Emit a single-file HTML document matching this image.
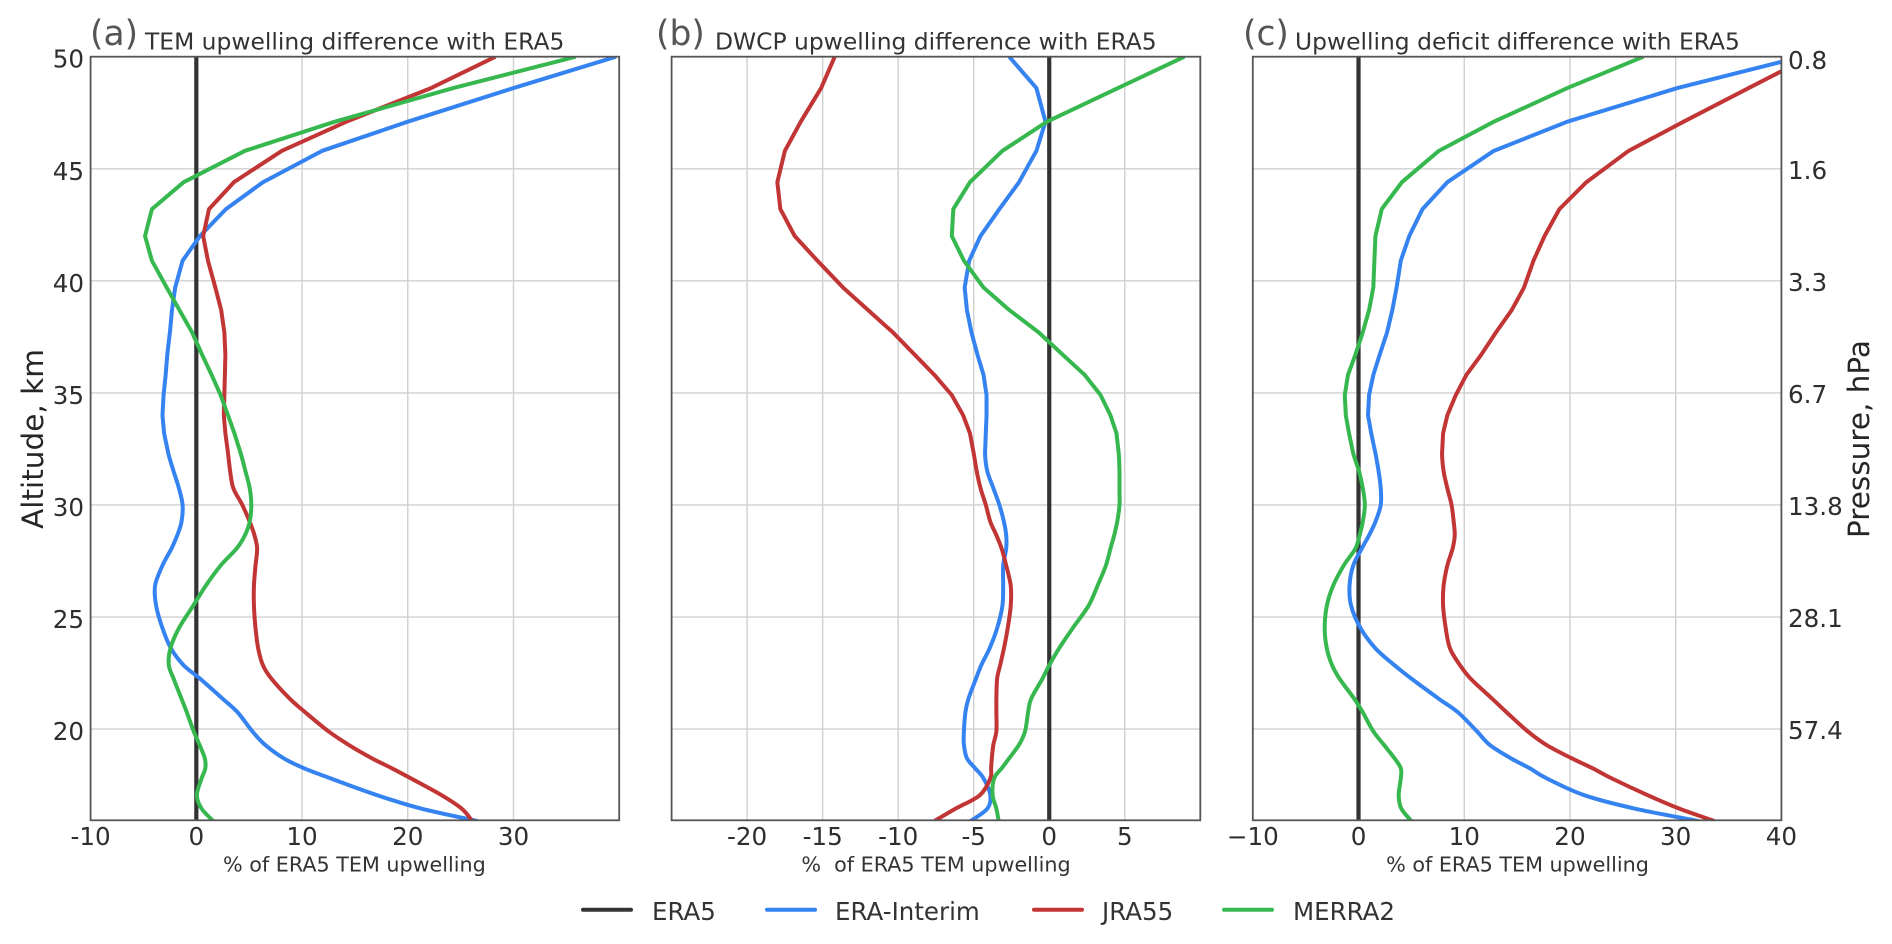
<!DOCTYPE html>
<html lang="en">
<head>
<meta charset="utf-8">
<title>Upwelling differences with ERA5</title>
<style>
html,body{margin:0;padding:0;background:#fff;width:1892px;height:944px;overflow:hidden}
svg{display:block;font-family:"DejaVu Sans","Liberation Sans",sans-serif;fill:#333}
.tick{font-size:24.6px;fill:#2e2e2e}
.xl{font-size:20.7px;fill:#333;text-anchor:middle}
.ttl{font-size:23.4px;fill:#333}
.pl{font-size:34.5px;fill:#555}
.ax{font-size:29.5px;fill:#262626;text-anchor:middle}
.lg{font-size:24.5px;fill:#333}
</style>
</head>
<body>
<svg id="fig" xmlns="http://www.w3.org/2000/svg" width="1892" height="944" viewBox="0 0 1892 944">
  <rect width="1892" height="944" fill="#fff"/>
  <g id="panels"></g>

  <text class="pl" x="90" y="45">(a)</text>
  <text class="ttl" x="145" y="49.5">TEM upwelling difference with ERA5</text>
  <text class="pl" x="656" y="45">(b)</text>
  <text class="ttl" x="715" y="49.5">DWCP upwelling difference with ERA5</text>
  <text class="pl" x="1243" y="45">(c)</text>
  <text class="ttl" x="1295" y="49.5">Upwelling deficit difference with ERA5</text>

  <text class="xl" x="354.4" y="871.5">% of ERA5 TEM upwelling</text>
  <text class="xl" x="936" y="871.5" xml:space="preserve">%  of ERA5 TEM upwelling</text>
  <text class="xl" x="1517.5" y="871.5">% of ERA5 TEM upwelling</text>

  <text class="ax" transform="translate(43,439) rotate(-90)">Altitude, km</text>
  <text class="ax" transform="translate(1869,439) rotate(-90)">Pressure, hPa</text>

  <g>
    <line x1="583" x2="631" y1="909.7" y2="909.7" stroke="#333333" stroke-width="4" stroke-linecap="round"/>
    <text class="lg" x="652" y="920">ERA5</text>
    <line x1="767" x2="815" y1="909.7" y2="909.7" stroke="#3583f0" stroke-width="4" stroke-linecap="round"/>
    <text class="lg" x="835" y="920">ERA-Interim</text>
    <line x1="1034" x2="1082" y1="909.7" y2="909.7" stroke="#c23535" stroke-width="4" stroke-linecap="round"/>
    <text class="lg" x="1102" y="920">JRA55</text>
    <line x1="1224" x2="1272" y1="909.7" y2="909.7" stroke="#36b84f" stroke-width="4" stroke-linecap="round"/>
    <text class="lg" x="1293" y="920">MERRA2</text>
  </g>
</svg>

<script>
// Shared vertical coordinate (km)
const altitudeLevels = [50,48.6,47.1,45.8,44.4,43.2,42,40.9,39.7,38.7,37.7,36.7,35.8,34.9,34,33.2,32.3,31.5,30.75,30,29.25,28.65,28.05,27.3,26.4,25.5,24.5,23.6,22.85,22.25,21.35,20.75,19.9,19.3,18.7,18.25,17.8,17.05,16.45,15.9];

// Panel (a): TEM upwelling difference, %
const temEraInterim = [39.7,30,20,11.9,6.3,2.8,.35,-1.3,-2,-2.3,-2.5,-2.75,-2.9,-3.1,-3.2,-3.05,-2.65,-2.15,-1.65,-1.3,-1.4,-1.8,-2.35,-3.2,-3.9,-3.8,-3.2,-2.4,-1.2,.35,2.5,3.9,5.3,6.5,8.25,10.2,12.7,17.1,21.3,26.6];
const temJra55 = [28.3,22.2,14.2,8.1,3.55,1.2,.65,1.1,1.8,2.35,2.65,2.75,2.7,2.65,2.6,2.75,3,3.2,3.5,4.35,5.05,5.5,5.75,5.6,5.45,5.45,5.6,5.85,6.3,7.1,8.85,10.3,12.5,14.4,16.6,18.5,20.3,23.2,25.1,26.1];
const temMerra2 = [35.9,24.3,13.1,4.6,-1.2,-4.2,-4.85,-4.2,-2.8,-1.6,-.4,.55,1.45,2.3,3,3.6,4.2,4.65,5.05,5.2,5.05,4.6,3.8,2.3,.9,-.3,-1.65,-2.45,-2.6,-2.15,-1.4,-.9,-.25,.3,.8,.85,.5,.05,.5,1.6];

// Panel (b): DWCP upwelling difference, %
const dwcpEraInterim = [-2.65,-.85,-.25,-.85,-2,-3.3,-4.55,-5.3,-5.6,-5.45,-5.15,-4.75,-4.35,-4.15,-4.15,-4.2,-4.25,-4.1,-3.7,-3.3,-3,-2.85,-2.85,-3.05,-3.05,-3.1,-3.45,-3.95,-4.5,-4.85,-5.35,-5.55,-5.65,-5.65,-5.45,-4.9,-4.35,-3.9,-4.1,-5.2];
const dwcpJra55 = [-14.2,-15.1,-16.45,-17.5,-18,-17.8,-16.85,-15.35,-13.65,-12,-10.35,-8.9,-7.6,-6.45,-5.7,-5.25,-5,-4.8,-4.55,-4.2,-3.9,-3.5,-3.15,-2.85,-2.55,-2.55,-2.75,-3,-3.25,-3.45,-3.5,-3.5,-3.5,-3.7,-3.8,-3.85,-3.9,-4.6,-6.2,-7.6];
const dwcpMerra2 = [8.95,4.55,-.15,-3.1,-5.25,-6.35,-6.45,-5.65,-4.35,-2.65,-.7,.9,2.35,3.4,4.05,4.45,4.6,4.65,4.65,4.65,4.5,4.3,4.05,3.75,3.2,2.6,1.55,.65,0,-.45,-1.2,-1.4,-1.6,-2,-2.65,-3.15,-3.65,-3.75,-3.5,-3.35];

// Panel (c): Upwelling deficit difference, %
const deficitEraInterim = [41.95,30.15,19.75,12.8,8.4,6.05,4.8,4,3.6,3.2,2.7,2,1.4,1,.9,1.2,1.6,1.9,2.1,2.1,1.6,1,.3,-.5,-.85,-.7,.2,1.6,3.4,5,7.6,9.4,11.2,12.4,14.4,16.2,17.8,21.35,26.15,32.15];
const deficitJra55 = [42.7,36.9,30.75,25.55,21.55,19,17.6,16.55,15.65,14.5,13,11.6,10.2,9.2,8.4,8,7.9,8.05,8.4,8.8,9,9.1,8.9,8.4,8.05,8,8.25,8.65,9.6,10.6,12.65,14,16,17.75,20.15,22.15,23.95,27.35,30.35,33.65];
const deficitMerra2 = [26.95,19.75,12.8,7.6,4.1,2.2,1.6,1.5,1.4,1,.4,-.3,-1,-1.3,-1.2,-.9,-.5,.05,.4,.6,.4,.1,-.3,-1.4,-2.4,-3,-3.2,-3,-2.5,-1.8,-.4,.4,1.4,2.4,3.4,4,4,3.8,4.05,5];

// Axis ticks and labels
const altitudeTicks = [50,45,40,35,30,25,20];
const pressureLabels = ["0.8","1.6","3.3","6.7","13.8","28.1","57.4"];
const panelATicks = [-10,0,10,20,30];
const panelALabels = ["-10","0","10","20","30"];
const panelBTicks = [-20,-15,-10,-5,0,5];
const panelBLabels = ["-20","-15","-10","-5","0","5"];
const panelCTicks = [-10,0,10,20,30,40];
const panelCLabels = ["\u221210","0","10","20","30","40"];

const SVGNS = "http://www.w3.org/2000/svg";
const root = document.getElementById("panels");
const seriesColors = {interim:"#3583f0", jra:"#c23535", merra:"#36b84f"};
const splineBelowKm = 33;

function yScale(a){ const t=56.7,b=820.3,hi=50,lo=15.93; return t+(hi-a)*(b-t)/(hi-lo); }
function makeXScale(x0,x1,d0,d1){ return function(v){ return x0+(v-d0)*(x1-x0)/(d1-d0); }; }
function shape(tag,parent){ const e=document.createElementNS(SVGNS,tag); parent.appendChild(e); return e; }

// Straight segments in the coarse upper levels, Catmull-Rom through the finer lower levels
function linePath(xs,values){
  const pts=values.map(function(v,i){ return [xs(v),yScale(altitudeLevels[i])]; });
  let d="M"+pts[0][0].toFixed(2)+" "+pts[0][1].toFixed(2);
  for(let i=1;i<pts.length;i++){
    const p1=pts[i-1], p2=pts[i];
    if(altitudeLevels[i-1]>splineBelowKm){
      d+="L"+p2[0].toFixed(2)+" "+p2[1].toFixed(2);
    }else{
      const p0=pts[i-2]||p1, p3=pts[i+1]||p2;
      const c1x=p1[0]+(p2[0]-p0[0])/6, c1y=p1[1]+(p2[1]-p0[1])/6;
      const c2x=p2[0]-(p3[0]-p1[0])/6, c2y=p2[1]-(p3[1]-p1[1])/6;
      d+="C"+c1x.toFixed(2)+" "+c1y.toFixed(2)+" "+c2x.toFixed(2)+" "+c2y.toFixed(2)+" "+p2[0].toFixed(2)+" "+p2[1].toFixed(2);
    }
  }
  return d;
}

function drawSeries(parent,xs,values,color,name){
  const p=shape("path",parent);
  p.setAttribute("d",linePath(xs,values));
  p.setAttribute("fill","none");
  p.setAttribute("stroke",color);
  p.setAttribute("stroke-width","4");
  p.setAttribute("stroke-linejoin","round");
  
  
}

function drawPanel(id,x0,x1,d0,d1,ticks,labels,interim,jra,merra){
  const xs=makeXScale(x0,x1,d0,d1);
  const t=yScale(50), b=820.3;
  const g=shape("g",root);
  
  

  const clip=shape("clipPath",g);
  clip.setAttribute("id","clip-"+id);
  const cr=shape("rect",clip);
  cr.setAttribute("x",x0); cr.setAttribute("y",t);
  cr.setAttribute("width",x1-x0); cr.setAttribute("height",b-t);

  altitudeTicks.forEach(function(a){
    const l=shape("line",g);
    l.setAttribute("x1",x0); l.setAttribute("x2",x1);
    l.setAttribute("y1",yScale(a)); l.setAttribute("y2",yScale(a));
    l.setAttribute("stroke","#d0d0d0"); l.setAttribute("stroke-width","1.4");
    
    
  });
  ticks.forEach(function(v,i){
    const l=shape("line",g);
    l.setAttribute("x1",xs(v)); l.setAttribute("x2",xs(v));
    l.setAttribute("y1",t); l.setAttribute("y2",b);
    l.setAttribute("stroke","#d0d0d0"); l.setAttribute("stroke-width","1.4");
    
    
    const tx=shape("text",g);
    tx.textContent=labels[i];
    tx.setAttribute("x",xs(v)); tx.setAttribute("y",845);
    tx.setAttribute("text-anchor","middle"); tx.setAttribute("class","tick");
    
    
  });

  const lines=shape("g",g);
  lines.setAttribute("clip-path","url(#clip-"+id+")");
  
  

  const zero=shape("line",lines);
  zero.setAttribute("x1",xs(0)); zero.setAttribute("x2",xs(0));
  zero.setAttribute("y1",t); zero.setAttribute("y2",b);
  zero.setAttribute("stroke","#333333"); zero.setAttribute("stroke-width","4.2");
  
  

  drawSeries(lines,xs,interim,seriesColors.interim,"series-era-interim");
  drawSeries(lines,xs,jra,seriesColors.jra,"series-jra55");
  drawSeries(lines,xs,merra,seriesColors.merra,"series-merra2");

  const f=shape("rect",g);
  f.setAttribute("x",x0); f.setAttribute("y",t);
  f.setAttribute("width",x1-x0); f.setAttribute("height",b-t);
  f.setAttribute("fill","none"); f.setAttribute("stroke","#555"); f.setAttribute("stroke-width","1.8");
  
  
}

drawPanel("a",90.6,619.2,-10,40,panelATicks,panelALabels,temEraInterim,temJra55,temMerra2);
drawPanel("b",671.6,1200.3,-25,10,panelBTicks,panelBLabels,dwcpEraInterim,dwcpJra55,dwcpMerra2);
drawPanel("c",1252.8,1781.4,-10,40,panelCTicks,panelCLabels,deficitEraInterim,deficitJra55,deficitMerra2);

altitudeTicks.forEach(function(a,i){
  const l=shape("text",root);
  l.textContent=String(a);
  l.setAttribute("x",84); l.setAttribute("y",yScale(a)+11);
  l.setAttribute("text-anchor","end"); l.setAttribute("class","tick");
  
  
  const r=shape("text",root);
  r.textContent=pressureLabels[i];
  r.setAttribute("x",1788); r.setAttribute("y",yScale(a)+(i===0?12.5:10));
  r.setAttribute("class","tick");
  
  
});
</script>
</body>
</html>
